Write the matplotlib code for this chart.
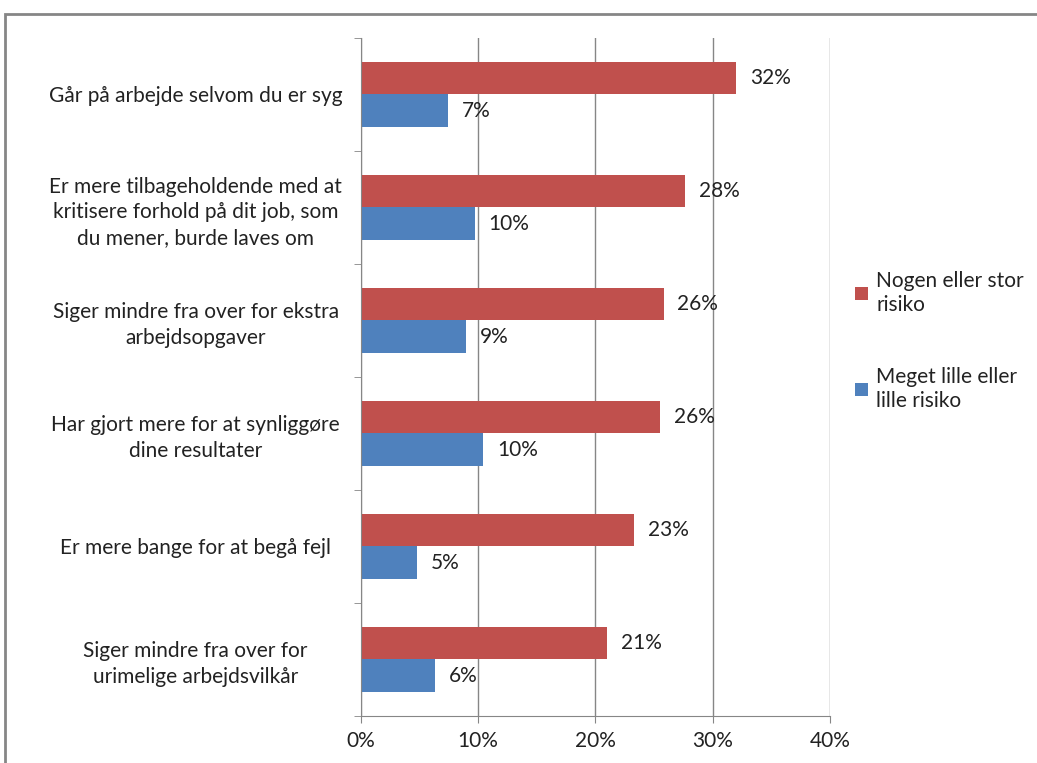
import matplotlib.pyplot as plt
import numpy as np
from matplotlib.patches import Rectangle

# Categories (top to bottom) and values in percent
categories = [
    "Går på arbejde selvom du er syg",
    "Er mere tilbageholdende med at\nkritisere forhold på dit job, som\ndu mener, burde laves om",
    "Siger mindre fra over for ekstra\narbejdsopgaver",
    "Har gjort mere for at synliggøre\ndine resultater",
    "Er mere bange for at begå fejl",
    "Siger mindre fra over for\nurimelige arbejdsvilkår",
]
stor_risiko = [32.0, 27.6, 25.8, 25.5, 23.3, 21.0]
lille_risiko = [7.4, 9.7, 9.0, 10.4, 4.8, 6.3]
stor_labels = ["32%", "28%", "26%", "26%", "23%", "21%"]
lille_labels = ["7%", "10%", "9%", "10%", "5%", "6%"]
series_names = ["Nogen eller stor\nrisiko", "Meget lille eller\nlille risiko"]

red = "#c0504d"
blue = "#4f81bd"
grey = "#868686"
fs = 15

plt.rcParams['font.family'] = ['Lato', 'DejaVu Sans']

fig = plt.figure(figsize=(10.37, 7.63), dpi=100)
ax = fig.add_axes([0.348, 0.0616, 0.4525, 0.8886])

# frame around chart
fig.patches.append(Rectangle((5 / 1037, -0.01), 1.02, 1 - 14 / 763 + 0.01,
                             transform=fig.transFigure, fill=False,
                             edgecolor=grey, linewidth=2))

y = np.arange(len(categories))
h = 0.29
ax.barh(y - h / 2, stor_risiko, height=h, color=red, label=series_names[0])
ax.barh(y + h / 2, lille_risiko, height=h, color=blue, label=series_names[1])

for i in range(len(categories)):
    ax.annotate(stor_labels[i], (stor_risiko[i], y[i] - h / 2), xytext=(10, 0),
                textcoords="offset points", va="center", fontsize=fs, color="#222222")
    ax.annotate(lille_labels[i], (lille_risiko[i], y[i] + h / 2), xytext=(10, 0),
                textcoords="offset points", va="center", fontsize=fs, color="#222222")

ax.set_xlim(0, 40)
ax.set_ylim(len(categories) - 0.5, -0.5)
ax.set_xticks([0, 10, 20, 30, 40])
ax.set_xticklabels(["0%", "10%", "20%", "30%", "40%"], fontsize=fs, color="#222222")
ax.set_yticks(y)
ax.set_yticklabels(categories, fontsize=fs, ha="center", multialignment="center",
                   linespacing=1.35, color="#222222")
ax.tick_params(axis="y", length=0, pad=119)
ax.set_yticks(np.arange(-0.5, len(categories)), minor=True)
ax.tick_params(axis="y", which="minor", length=5, color=grey)
ax.tick_params(axis="x", length=5, color=grey, pad=6)

ax.grid(axis="x", color=grey, linewidth=1)
ax.set_axisbelow(True)
for s in ["top", "right"]:
    ax.spines[s].set_visible(False)
for s in ["left", "bottom"]:
    ax.spines[s].set_color(grey)

leg = ax.legend(loc="upper left", bbox_to_anchor=(1.054, 0.657), frameon=False,
                fontsize=fs, handlelength=0.6, handleheight=0.6, handletextpad=0.4,
                labelspacing=2.5, borderpad=0, borderaxespad=0)
for t in leg.get_texts():
    t.set_color("#222222")
    t.set_linespacing(1.25)

fig.savefig("out.png", dpi=100)
